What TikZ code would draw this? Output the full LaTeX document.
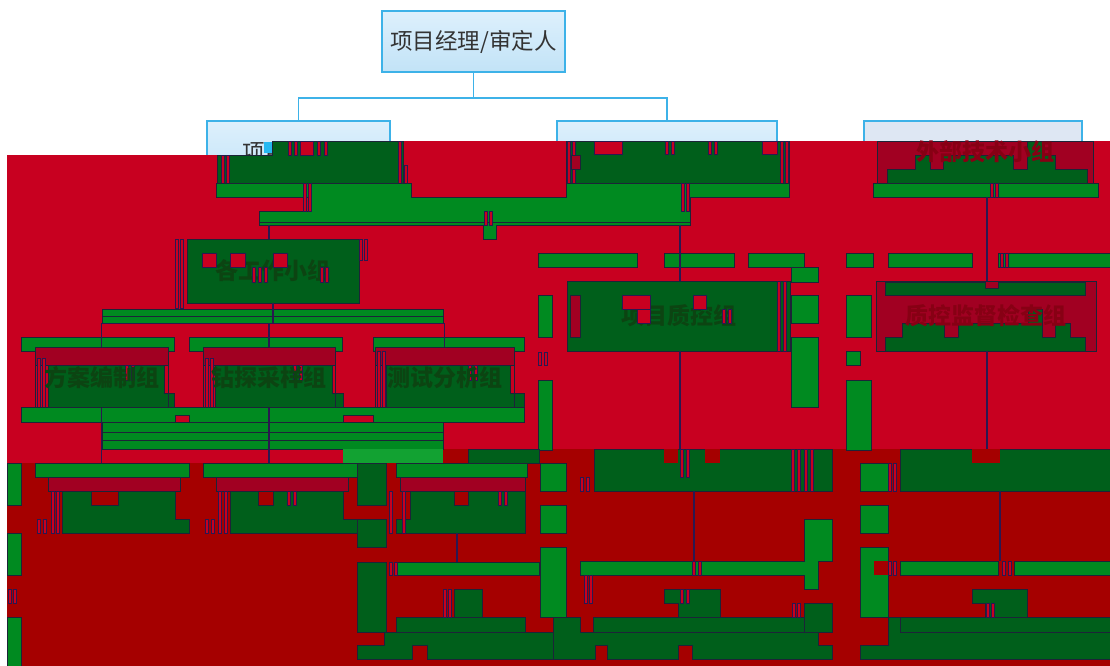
\documentclass[tikz,border=0pt]{standalone}
\usepackage{fontspec}
\newfontfamily\cjk{Noto Sans CJK SC}
\definecolor{bbord}{HTML}{3DB2E8}
\definecolor{bfa}{HTML}{DDF0FC}
\definecolor{bfb}{HTML}{C2E3F7}
\definecolor{bgrey}{HTML}{DEE7F3}
\definecolor{txtgray}{HTML}{333333}
\definecolor{rbg}{HTML}{C80020}
\definecolor{rbgb}{HTML}{A50000}
\definecolor{gbright}{HTML}{008A20}
\definecolor{gdark}{HTML}{005F1B}
\definecolor{rdark}{HTML}{A10022}
\definecolor{navy}{HTML}{2B1850}
\definecolor{edge}{HTML}{1C2438}
\definecolor{gtxt}{HTML}{0C4412}
\definecolor{rtxt}{HTML}{870014}
\definecolor{glight}{HTML}{12A232}
\tikzset{
  bluebox/.style={draw=bbord, line width=1.6pt, top color=bfa, bottom color=bfb, inner sep=0pt, text=txtgray, font=\cjk\fontsize{22.5}{26}\selectfont},
  greybox/.style={draw=bbord, line width=1.6pt, fill=bgrey, inner sep=0pt},
  link/.style={draw=bbord, line width=1.6pt},
  gdk/.style={fill=gdark, draw=edge, line width=0.7pt},
  gbr/.style={fill=gbright, draw=edge, line width=0.7pt},
  rdk/.style={fill=rdark, draw=edge, line width=0.7pt},
  rbar/.style={fill=rbg, draw=navy, line width=0.5pt},
  nline/.style={draw=navy, line width=1.1pt},
  gnode/.style={fill=gdark, draw=edge, line width=0.8pt, inner sep=0pt, text=gtxt, font=\cjk\bfseries\fontsize{23}{27}\selectfont},
  onode/.style={draw=edge, line width=0.8pt, inner sep=0pt, font=\cjk\bfseries\fontsize{23}{27}\selectfont},
  lnode/.style={fill=gdark, draw=edge, line width=0.8pt, inner sep=0pt},
  hnode/.style={inner sep=0pt},
}
\begin{document}
\begin{tikzpicture}[x=1pt,y=-1pt]
\useasboundingbox (0,0) rectangle (1110,666);
\fill[white] (0,0) rectangle (1110,666);
% ---------- visible top of the chart ----------
\node[bluebox, minimum width=183pt, minimum height=61pt] (pm) at (473.5,41.5) {项目经理/审定人};
\node[bluebox, minimum width=183pt, minimum height=62pt] (tl) at (298.5,152) {项目负责人};
\node[bluebox, minimum width=220pt, minimum height=62pt] (qm) at (667,152) {};
\node[greybox, minimum width=218pt, minimum height=62pt] (ext) at (973,152) {};
\draw[link] (pm.south) -- ++(0,25) coordinate (hub) -| (tl.north);
\draw[link] (hub) -| (qm.north);
% ---------- red overlay ----------
\fill[rbg] (272,141) -- (1110,141) -- (1110,666) -- (7,666) -- (7,155) -- (272,155) -- cycle;
\fill[rbgb] (7,463) -- (343,463) -- (343,449) -- (1110,449) -- (1110,666) -- (7,666) -- cycle;
\fill[cyan!85!white] (264,142) rectangle (272,153);
% second level, left
\filldraw[gdk] (217,155) -- (272,155) -- (272,141) -- (403,141) -- (403,183) -- (217,183) -- cycle;
\foreach \a/\b/\c/\d in {221/155/224/183, 226/155/229/183, 288/141/291/155, 294/141/297/155, 300/141/313/155, 317/141/320/155, 324/141/327/155, 398/141/401/183, 404/165/407/183}
  \filldraw[rbar] (\a,\b) rectangle (\c,\d);
% second level, middle
\filldraw[gdk] (566,141) rectangle (789,183);
\foreach \a/\b/\c/\d in {594/141/622/154, 762/141/777/154, 567/141/570/183, 572/141/575/183, 665/141/668/154, 671/141/674/154, 708/141/711/154, 714/141/717/154, 780/141/783/183, 785/141/788/183}
  \filldraw[rbar] (\a,\b) rectangle (\c,\d);
\filldraw[rdk] (571,155) rectangle (580,169);
% second level, right
\filldraw[rdk] (877,141) rectangle (1093,183);
\filldraw[gdk] (887,183) -- (887,169) -- (915,169) -- (915,155) -- (930,155) -- (930,169) -- (943,169) -- (943,155) -- (1013,155) -- (1013,169) -- (1027,169) -- (1027,141) -- (1042,141) -- (1042,155) -- (1055,155) -- (1055,169) -- (1087,169) -- (1087,183) -- cycle;
\node[hnode, text=rtxt, font=\cjk\bfseries\fontsize{23}{27}\selectfont] (extlabel) at (985,152) {外部技术小组};
% bright bars under the second level
\filldraw[gbr] (216,183) -- (411,183) -- (411,197) -- (566,197) -- (566,183) -- (789,183) -- (789,197) -- (690,197) -- (690,225) -- (496,225) -- (496,239) -- (483,239) -- (483,225) -- (259,225) -- (259,211) -- (311,211) -- (311,197) -- (216,197) -- cycle;
\draw[edge, line width=0.7pt] (259,222) -- (690,222);
\filldraw[gbr] (873,183) rectangle (1098,197);
\foreach \a/\b/\c/\d in {303/183/306/211, 308/183/311/211, 681/183/684/211, 686/183/689/211, 484/211/487/225, 489/211/492/225, 990/183/993/197, 995/183/998/197}
  \filldraw[rbar] (\a,\b) rectangle (\c,\d);
\coordinate (busA) at (269,225);
\coordinate (busB) at (680,225);
\coordinate (extbus) at (987,197);
% row-2 bars and strips
\foreach \a/\b/\c/\d in {538/253/637/267, 664/253/734/267, 748/253/804/267, 846/253/873/267, 888/253/972/267, 998/253/1110/267, 791/267/818/282, 791/295/818/323, 791/337/818/407, 538/295/552/337, 538/380/552/450, 846/295/871/337, 846/351/860/365, 846/380/871/450}
  \filldraw[gbr] (\a,\b) rectangle (\c,\d);
\foreach \a/\b/\c/\d in {538/352/541/365, 544/352/547/365, 1000/253/1003/267, 1005/253/1008/267}
  \filldraw[rbar] (\a,\b) rectangle (\c,\d);
% work groups
\node[gnode, minimum width=172pt, minimum height=64pt] (wg) at (273,271) {各工作小组};
\foreach \a/\b/\c/\d in {202/253/216/267, 230/253/245/267, 273/253/287/267, 252/267/255/282, 258/267/261/282, 264/267/267/282, 320/267/323/282, 325/267/328/282, 175/239/178/308, 180/239/183/308, 359/239/362/260, 364/239/367/260}
  \filldraw[rbar] (\a,\b) rectangle (\c,\d);
\filldraw[gbr] (102,309) rectangle (443,323);
\draw[edge, line width=0.7pt] (102,316) -- (443,316);
\foreach \a/\b/\c/\d in {21/337/174/351, 189/337/342/351, 373/337/524/351}
  \filldraw[gbr] (\a,\b) rectangle (\c,\d);
\filldraw[rdk] (35,347) rectangle (168,365);
\filldraw[gdk] (48,408) -- (48,365) -- (164,365) -- (164,393) -- (174,393) -- (174,408) -- cycle;
\filldraw[rdk] (203,347) rectangle (335,365);
\filldraw[gdk] (215,408) -- (215,365) -- (332,365) -- (332,393) -- (343,393) -- (343,408) -- cycle;
\filldraw[rdk] (375,347) rectangle (514,365);
\filldraw[gdk] (386,408) -- (386,365) -- (510,365) -- (510,393) -- (524,393) -- (524,408) -- cycle;
\foreach \a/\b/\c/\d in {125/365/128/380, 131/365/134/380, 37/358/40/408, 42/358/45/408, 293/365/296/380, 299/365/302/380, 205/358/208/408, 210/358/213/408, 377/351/380/408, 382/351/385/408, 468/365/471/380, 474/365/477/380}
  \filldraw[rbar] (\a,\b) rectangle (\c,\d);
\node[onode, text=gtxt, minimum width=133pt, minimum height=61pt] (c1) at (101.5,377.5) {方案编制组};
\node[onode, text=gtxt, minimum width=132pt, minimum height=61pt] (c2) at (269,377.5) {钻探采样组};
\node[onode, text=gtxt, minimum width=139pt, minimum height=61pt] (c3) at (444.5,377.5) {测试分析组};
\filldraw[gbr] (21,407) -- (524,407) -- (524,422) -- (373,422) -- (373,415) -- (343,415) -- (343,422) -- (189,422) -- (189,415) -- (175,415) -- (175,422) -- (21,422) -- cycle;
\filldraw[gbr] (102,422) rectangle (443,449);
\draw[edge, line width=0.7pt] (102,432) -- (443,432) (102,440) -- (443,440);
\fill[glight] (343,449) rectangle (443,463);
\filldraw[gdk] (468,449) rectangle (539,463);
% quality control groups
\node[gnode, minimum width=223pt, minimum height=70pt] (qc) at (679,316) {项目质控组};
\foreach \a/\b/\c/\d in {622/295/650/309, 637/309/650/323, 693/295/706/309, 722/309/725/323, 728/309/731/323, 777/281/780/351, 783/281/786/351}
  \filldraw[rbar] (\a,\b) rectangle (\c,\d);
\filldraw[rdk] (570,295) rectangle (580,337);
\filldraw[rdk] (876,281) rectangle (1096,351);
\filldraw[gdk] (885,282) -- (985,282) -- (985,288) -- (998,288) -- (998,282) -- (1085,282) -- (1085,295) -- (885,295) -- cycle;
\filldraw[gdk] (885,351) -- (885,337) -- (902,337) -- (902,323) -- (944,323) -- (944,337) -- (958,337) -- (958,323) -- (1028,323) -- (1028,309) -- (1042,309) -- (1042,337) -- (1055,337) -- (1055,323) -- (1070,323) -- (1070,337) -- (1085,337) -- (1085,351) -- cycle;
\node[onode, text=rtxt, minimum width=220pt, minimum height=70pt] (sup) at (986,316) {质控监督检查组};
% ---------- lower rows ----------
% left edge strip
\foreach \a/\b/\c/\d in {7/463/21/505, 7/533/21/575, 7/617/21/666}
  \filldraw[gbr] (\a,\b) rectangle (\c,\d);
\foreach \a/\b/\c/\d in {8/589/11/603, 13/589/16/603}
  \filldraw[rbar] (\a,\b) rectangle (\c,\d);
% l1
\node[hnode, minimum width=154pt, minimum height=70pt] (l1) at (112,498) {};
\filldraw[gbr] (35,463) rectangle (189,477);
\filldraw[rdk] (48,477) rectangle (180,491);
\filldraw[gdk] (62,491) -- (91,491) -- (91,505) -- (118,505) -- (118,491) -- (175,491) -- (175,519) -- (189,519) -- (189,533) -- (62,533) -- cycle;
% l2
\node[hnode, minimum width=154pt, minimum height=70pt] (l2) at (280,498) {};
\filldraw[gbr] (203,463) rectangle (357,477);
\filldraw[rdk] (216,477) rectangle (348,491);
\filldraw[gdk] (230,491) -- (258,491) -- (258,505) -- (273,505) -- (273,491) -- (343,491) -- (343,519) -- (357,519) -- (357,533) -- (230,533) -- cycle;
% l3
\node[hnode, minimum width=131pt, minimum height=70pt] (l3) at (461.5,498) {};
\filldraw[gdk] (357,463) rectangle (386,505);
\filldraw[gdk] (357,519) rectangle (386,547);
\filldraw[gbr] (396,463) rectangle (527,477);
\filldraw[rdk] (400,477) rectangle (525,491);
\filldraw[gdk] (410,491) -- (454,491) -- (454,505) -- (468,505) -- (468,491) -- (525,491) -- (525,533) -- (396,533) -- (396,519) -- (410,519) -- cycle;
\foreach \a/\b/\c/\d in {37/519/40/533, 43/519/46/533, 51/491/54/533, 56/491/59/533, 205/519/208/533, 211/519/214/533, 218/491/221/533, 224/491/227/533, 287/491/290/505, 293/491/296/505, 389/491/392/533, 402/491/405/533, 498/491/501/505, 504/491/507/505}
  \filldraw[rbar] (\a,\b) rectangle (\c,\d);
% l4
\node[hnode, minimum width=143pt, minimum height=70pt] (l4) at (467.5,597) {};
\filldraw[gdk] (357,562) rectangle (386,632);
\filldraw[gbr] (396,562) rectangle (539,575);
\filldraw[gdk] (454,589) rectangle (482,617);
\filldraw[gdk] (396,617) rectangle (525,632);
\filldraw[gdk] (357,645) -- (384,645) -- (384,632) -- (560,632) -- (560,659) -- (427,659) -- (427,645) -- (412,645) -- (412,659) -- (357,659) -- cycle;
\foreach \a/\b/\c/\d in {443/589/446/617, 448/589/451/617, 389/562/392/575, 394/562/397/575}
  \filldraw[rbar] (\a,\b) rectangle (\c,\d);
% middle column strips
\foreach \a/\b/\c/\d in {540/463/566/491, 540/505/566/533, 540/547/566/617}
  \filldraw[gbr] (\a,\b) rectangle (\c,\d);
% m1
\node[lnode, minimum width=238pt, minimum height=42pt] (m1) at (713,470) {};
\fill[rbgb] (664,449) rectangle (678,463);
\fill[rbgb] (705,449) rectangle (720,463);
\foreach \a/\b/\c/\d in {680/449/683/477, 686/449/689/477, 791/449/794/491, 797/449/800/491, 804/449/807/491, 810/449/813/491, 580/477/583/491, 586/477/589/491}
  \filldraw[rbar] (\a,\b) rectangle (\c,\d);
% m2
\node[hnode, minimum width=252pt, minimum height=71pt] (m2) at (706,596.5) {};
\filldraw[gbr] (580,561) -- (804,561) -- (804,519) -- (832,519) -- (832,561) -- (818,561) -- (818,589) -- (804,589) -- (804,575) -- (580,575) -- cycle;
\filldraw[gdk] (664,589) -- (720,589) -- (720,617) -- (678,617) -- (678,603) -- (664,603) -- cycle;
\filldraw[gdk] (593,617) rectangle (816,632);
\filldraw[gdk] (804,603) rectangle (832,632);
\filldraw[gdk] (553,617) -- (580,617) -- (580,632) -- (818,632) -- (818,645) -- (832,645) -- (832,659) -- (692,659) -- (692,645) -- (678,645) -- (678,659) -- (607,659) -- (607,645) -- (595,645) -- (595,659) -- (553,659) -- cycle;
\foreach \a/\b/\c/\d in {584/575/587/603, 589/575/592/603, 792/603/795/617, 797/603/800/617, 692/561/695/575, 698/561/701/575, 680/589/683/603, 686/589/689/603}
  \filldraw[rbar] (\a,\b) rectangle (\c,\d);
% right column strips
\foreach \a/\b/\c/\d in {860/463/888/491, 860/505/888/533, 860/547/888/617}
  \filldraw[gbr] (\a,\b) rectangle (\c,\d);
\fill[rbgb] (874,561) rectangle (888,575);
% r1
\node[lnode, minimum width=210pt, minimum height=42pt] (r1) at (1005,470) {};
\fill[rbgb] (972,449) rectangle (1000,463);
\foreach \a/\b/\c/\d in {888/463/891/491, 893/463/896/491}
  \filldraw[rbar] (\a,\b) rectangle (\c,\d);
% r2
\node[hnode, minimum width=210pt, minimum height=71pt] (r2) at (1005,596.5) {};
\filldraw[gbr] (900,561) rectangle (998,575);
\filldraw[gbr] (1014,561) rectangle (1110,575);
\filldraw[gdk] (972,589) -- (1027,589) -- (1027,617) -- (985,617) -- (985,603) -- (972,603) -- cycle;
\filldraw[gdk] (900,617) rectangle (1110,632);
\filldraw[gdk] (888,617) -- (900,617) -- (900,632) -- (1110,632) -- (1110,659) -- (860,659) -- (860,645) -- (888,645) -- cycle;
\foreach \a/\b/\c/\d in {1002/561/1005/575, 1008/561/1011/575, 986/603/989/617, 991/603/994/617, 888/561/891/575, 893/561/896/575}
  \filldraw[rbar] (\a,\b) rectangle (\c,\d);
% ---------- connectors of the covered part ----------
\draw[nline] (busA) -- (busA |- wg.north);
\draw[nline] (busB) -- (busB |- qc.north);
\draw[nline] (extbus) -- (extbus |- sup.north);
\path (wg.south) ++(0,20) coordinate (wgbus);
\draw[nline] (wg.south) -- (wgbus);
\draw[nline] (wgbus) -| (c1.north);
\draw[nline] (wgbus) -| (c3.north);
\draw[nline] (c2.north) -- (c2.north |- wgbus);
\draw[nline] (c1.south) -- (c1.south |- l1.north);
\draw[nline] (c2.south) -- (c2.south |- l2.north);
\draw[nline] ([xshift=-4.5pt]l3.south) -- ([xshift=-4.5pt]l3.south |- l4.north);
\draw[nline] ([xshift=1pt]qc.south) -- ([xshift=1pt]qc.south |- m1.north);
\draw[nline] ([xshift=-19pt]m1.south) -- ([xshift=-19pt]m1.south |- m2.north);
\draw[nline] ([xshift=1pt]sup.south) -- ([xshift=1pt]sup.south |- r1.north);
\draw[nline] ([xshift=-5pt]r1.south) -- ([xshift=-5pt]r1.south |- r2.north);
\end{tikzpicture}
\end{document}
